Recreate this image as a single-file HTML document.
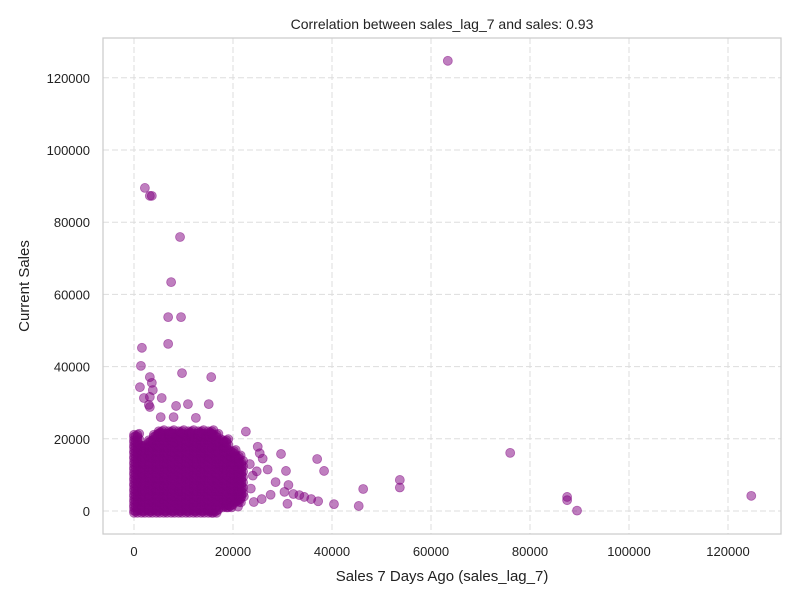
<!DOCTYPE html>
<html><head><meta charset="utf-8"><style>
body{margin:0;background:#fff;}
svg{display:block;font-family:"Liberation Sans",sans-serif;}
</style></head><body>
<svg id="chart" width="800" height="600">
<rect x="0" y="0" width="800" height="600" fill="#fff"/>
<g id="grid"></g>
<g id="pts"></g>
<rect x="103" y="38" width="678" height="496" fill="none" stroke="#cccccc" stroke-width="1.25"/>
<g id="ticks"></g>
<text x="442" y="29" text-anchor="middle" font-size="14" fill="#222">Correlation between sales_lag_7 and sales: 0.93</text>
<text x="442" y="581" text-anchor="middle" font-size="15" fill="#222">Sales 7 Days Ago (sales_lag_7)</text>
<text x="29" y="286" text-anchor="middle" font-size="15" fill="#222" transform="rotate(-90 29 286)">Current Sales</text>
</svg>
<script>
const xTicks=[0,20000,40000,60000,80000,100000,120000];
const yTicks=[0,20000,40000,60000,80000,100000,120000];
const outX=[63400,2200,3200,3600,9300,7500,6900,9500,6900,1600,9700,15600,1400,1200,3200,3600,3800,3200,5600,2000,3000,3200,8500,10900,15100,5400,8000,12500,76000,37000,38400,29700,30700,31200,30400,32200,33400,34400,35800,37200,40400,45400,46300,53700,53700,87500,87500,89500,124700,25000,25400,26000,27000,24000,23600,22200,21600,21000,24200,25800,22600,27600,28600,31000,24800,23400];
const outY=[124700,89500,87300,87300,75900,63400,53700,53700,46300,45200,38200,37100,40200,34300,37100,35500,33500,31600,31300,31300,29400,28800,29100,29600,29600,26000,26000,25800,16100,14400,11100,15800,11100,7200,5300,4700,4400,3900,3300,2700,1900,1400,6100,8600,6500,3900,3000,100,4200,17800,16000,14500,11500,9800,6200,4000,2400,1200,2500,3300,22000,4500,8000,2000,11000,13000];
const blobRowY=[-500,1000,2500,4000,5500,7000,8500,10000,11500,13000,14500,16000,17500,19000,20500,21500];
const blobRowX=[
[0,1500,3000,4500,6000,7500,9000,10500,12000,13500,15000,16000],
[0,1500,3000,4500,6000,7500,9000,10500,12000,13500,15000,16500,18000,19000],
[0,1500,3000,4500,6000,7500,9000,10500,12000,13500,15000,16500,18000,19500,20500],
[0,1500,3000,4500,6000,7500,9000,10500,12000,13500,15000,16500,18000,19500,21000],
[0,1500,3000,4500,6000,7500,9000,10500,12000,13500,15000,16500,18000,19500,21000],
[0,1500,3000,4500,6000,7500,9000,10500,12000,13500,15000,16500,18000,19500,21000],
[0,1500,3000,4500,6000,7500,9000,10500,12000,13500,15000,16500,18000,19500,21000],
[0,1500,3000,4500,6000,7500,9000,10500,12000,13500,15000,16500,18000,19500,21000],
[0,1500,3000,4500,6000,7500,9000,10500,12000,13500,15000,16500,18000,19500,21000],
[0,1500,3000,4500,6000,7500,9000,10500,12000,13500,15000,16500,18000,19500,21000],
[0,1500,3000,4500,6000,7500,9000,10500,12000,13500,15000,16500,18000,19500,20500],
[0,1500,3000,4500,6000,7500,9000,10500,12000,13500,15000,16500,18000,19500],
[0,1500,3000,4500,6000,7500,9000,10500,12000,13500,15000,16500,18000],
[0,3000,4500,6000,7500,9000,10500,12000,13500,15000,16500,18000],
[0,4000,5500,7000,8500,10000,11500,13000,14500,16000],
[5000,7000,9000,11000,13000,15000]
];
const jitterX=[0,700,350,1050,0,700];
const jitterY=[0,600,300,900,600,0];
const X0=134,XS=99/20000,Y0=511,YS=72.2/20000;
const sx=v=>X0+v*XS, sy=v=>Y0-v*YS;
const NS='http://www.w3.org/2000/svg';
const grid=document.getElementById('grid'),ticks=document.getElementById('ticks'),pts=document.getElementById('pts');
xTicks.forEach(t=>{
 const l=document.createElementNS(NS,'line');
 
 
 l.setAttribute('x1',sx(t));l.setAttribute('x2',sx(t));l.setAttribute('y1',38);l.setAttribute('y2',534);
 l.setAttribute('stroke','#dddddd');l.setAttribute('stroke-dasharray','6,3');grid.appendChild(l);
 const tx=document.createElementNS(NS,'text');
 
 
 tx.setAttribute('x',sx(t));tx.setAttribute('y',556);tx.setAttribute('text-anchor','middle');tx.setAttribute('font-size','13');tx.setAttribute('fill','#222');
 tx.textContent=t;ticks.appendChild(tx);
});
yTicks.forEach(t=>{
 const l=document.createElementNS(NS,'line');
 
 
 l.setAttribute('x1',103);l.setAttribute('x2',781);l.setAttribute('y1',sy(t));l.setAttribute('y2',sy(t));
 l.setAttribute('stroke','#dddddd');l.setAttribute('stroke-dasharray','6,3');grid.appendChild(l);
 const tx=document.createElementNS(NS,'text');
 
 
 tx.setAttribute('x',90);tx.setAttribute('y',sy(t)+5);tx.setAttribute('text-anchor','end');tx.setAttribute('font-size','13');tx.setAttribute('fill','#222');
 tx.textContent=t;ticks.appendChild(tx);
});
function dot(x,y){
 const c=document.createElementNS(NS,'circle');
 
 
 c.setAttribute('cx',sx(x));c.setAttribute('cy',sy(y));c.setAttribute('r',4.5);
 c.setAttribute('fill','rgba(128,0,128,0.5)');c.setAttribute('stroke','rgba(128,0,128,0.5)');c.setAttribute('stroke-width','0.8');
 pts.appendChild(c);
}
blobRowY.forEach((y,i)=>blobRowX[i].forEach(x=>{jitterX.forEach((jx,k)=>dot(x+jx,y+jitterY[k]));}));
outX.forEach((x,i)=>dot(x,outY[i]));
</script>
</body></html>
